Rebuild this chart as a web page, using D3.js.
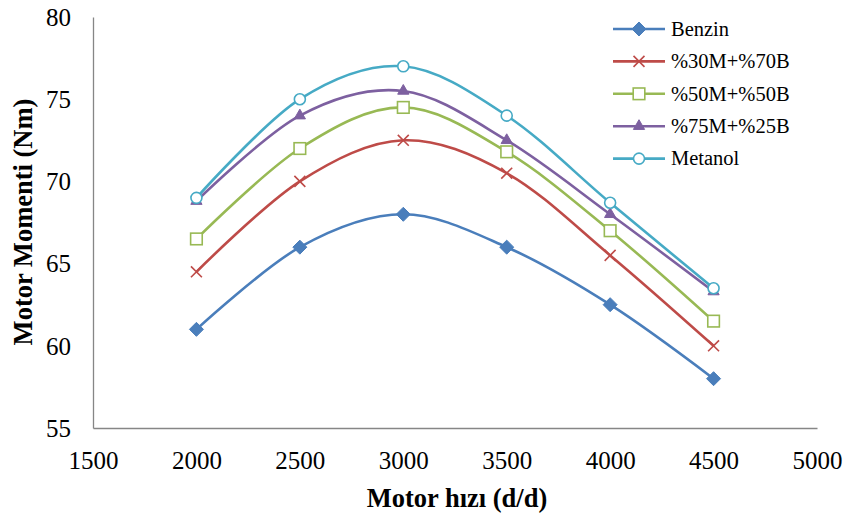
<!DOCTYPE html>
<html>
<head>
<meta charset="utf-8">
<script src="https://cdn.jsdelivr.net/npm/d3@7"></script>
<style>
  html, body { margin: 0; padding: 0; background: #fff; }
  svg { display: block; }
  svg text { font-family: "Liberation Serif", "Times New Roman", Times, serif; fill: #000; }
</style>
</head>
<body>
<svg id="chart" width="848" height="519"></svg>
<script>
// Engine speed (rpm) and torque (Nm) for each fuel blend
const speeds = [2000, 2500, 3000, 3500, 4000, 4500];
const benzin = [61, 66, 68, 66, 62.5, 58];
const m30b70 = [64.5, 70, 72.5, 70.5, 65.5, 60];
const m50b50 = [66.5, 72, 74.5, 71.8, 67, 61.5];
const m75b25 = [68.8, 74, 75.5, 72.5, 68, 63.3];
const metanol = [69, 75, 77, 74, 68.7, 63.5];
const seriesNames = ["Benzin", "%30M+%70B", "%50M+%50B", "%75M+%25B", "Metanol"];
const xTicks = [1500, 2000, 2500, 3000, 3500, 4000, 4500, 5000];
const yTicks = [55, 60, 65, 70, 75, 80];
const xTitle = "Motor hızı (d/d)";
const yTitle = "Motor Momenti (Nm)";

const seriesValues = [benzin, m30b70, m50b50, m75b25, metanol];
const colors = ["#4A7EBB", "#BE4B48", "#98B954", "#7D60A0", "#46AAC5"];
const markers = ["diamond", "cross", "square", "triangle", "circle"];
const serif = '"Liberation Serif", "Times New Roman", Times, serif';

const svg = d3.select("#chart");
const plotLeft = 93, plotRight = 817, plotTop = 17, plotBottom = 428;

const x = d3.scaleLinear().domain([1500, 5000]).range([plotLeft, plotRight]);
const y = d3.scaleLinear().domain([55, 80]).range([plotBottom, plotTop]);

// Axes without tick marks
const xAxis = d3.axisBottom(x).tickValues(xTicks).tickSize(0).tickFormat(d3.format("d"));
const yAxis = d3.axisLeft(y).tickValues(yTicks).tickSize(0).tickPadding(22).tickFormat(d3.format("d"));

const gx = svg.append("g").attr("transform", `translate(0,${plotBottom})`).call(xAxis);
const gy = svg.append("g").attr("transform", `translate(${plotLeft},0)`).call(yAxis);
[gx, gy].forEach(g => {
  g.attr("font-family", serif).attr("font-size", 25);
  g.select(".domain").attr("stroke", "#868686").attr("stroke-width", 1.3);
  g.selectAll("text").attr("fill", "#000").style("font-family", serif).style("font-size", "25px");
});
gx.selectAll("text").attr("y", 41).attr("dy", 0);
gy.selectAll("text").attr("dy", "0.33em");

// Axis titles
svg.append("text")
  .attr("x", 457).attr("y", 507)
  .attr("text-anchor", "middle").style("font-size", "26.5px").attr("font-weight", "bold")
  .style("font-family", serif)
  .text(xTitle);
svg.append("text")
  .attr("transform", `translate(32,222) rotate(-90)`)
  .attr("text-anchor", "middle").style("font-size", "26.5px").attr("font-weight", "bold")
  .style("font-family", serif)
  .text(yTitle);

const line = d3.line()
  .x((d, i) => x(speeds[i]))
  .y(d => y(d))
  .curve(d3.curveCardinal.tension(0));

function drawMarker(g, type, color, cx, cy) {
  if (type === "diamond") {
    g.append("path").attr("d", d3.symbol(d3.symbolDiamond2, 125)())
      .attr("transform", `translate(${cx},${cy})`).attr("fill", color).attr("stroke", color).attr("stroke-width", 1);
  } else if (type === "cross") {
    g.append("path").attr("d", d3.symbol(d3.symbolX, 80)())
      .attr("transform", `translate(${cx},${cy})`).attr("fill", "none").attr("stroke", color).attr("stroke-width", 1.6);
  } else if (type === "square") {
    g.append("rect").attr("x", cx - 5.8).attr("y", cy - 5.8).attr("width", 11.6).attr("height", 11.6)
      .attr("fill", "#fff").attr("stroke", color).attr("stroke-width", 1.6);
  } else if (type === "triangle") {
    g.append("path").attr("d", d3.symbol(d3.symbolTriangle2, 90)())
      .attr("transform", `translate(${cx},${cy})`).attr("fill", color).attr("stroke", color).attr("stroke-width", 1);
  } else {
    g.append("circle").attr("cx", cx).attr("cy", cy).attr("r", 5.5)
      .attr("fill", "#fff").attr("stroke", color).attr("stroke-width", 1.6);
  }
}

seriesValues.forEach((vals, s) => {
  const g = svg.append("g");
  g.append("path").datum(vals).attr("d", line)
    .attr("fill", "none").attr("stroke", colors[s]).attr("stroke-width", 2.6);
  vals.forEach((v, i) => drawMarker(g, markers[s], colors[s], x(speeds[i]), y(v)));
});

// Legend
const legend = svg.append("g");
seriesNames.forEach((name, s) => {
  const ly = 29 + s * 32.4;
  legend.append("line").attr("x1", 613).attr("x2", 665).attr("y1", ly).attr("y2", ly)
    .attr("stroke", colors[s]).attr("stroke-width", 2.6);
  drawMarker(legend, markers[s], colors[s], 639, ly);
  legend.append("text").attr("x", 671).attr("y", ly).attr("dy", "0.33em")
    .style("font-size", "20.5px").style("font-family", serif).text(name);
});
</script>
</body>
</html>
